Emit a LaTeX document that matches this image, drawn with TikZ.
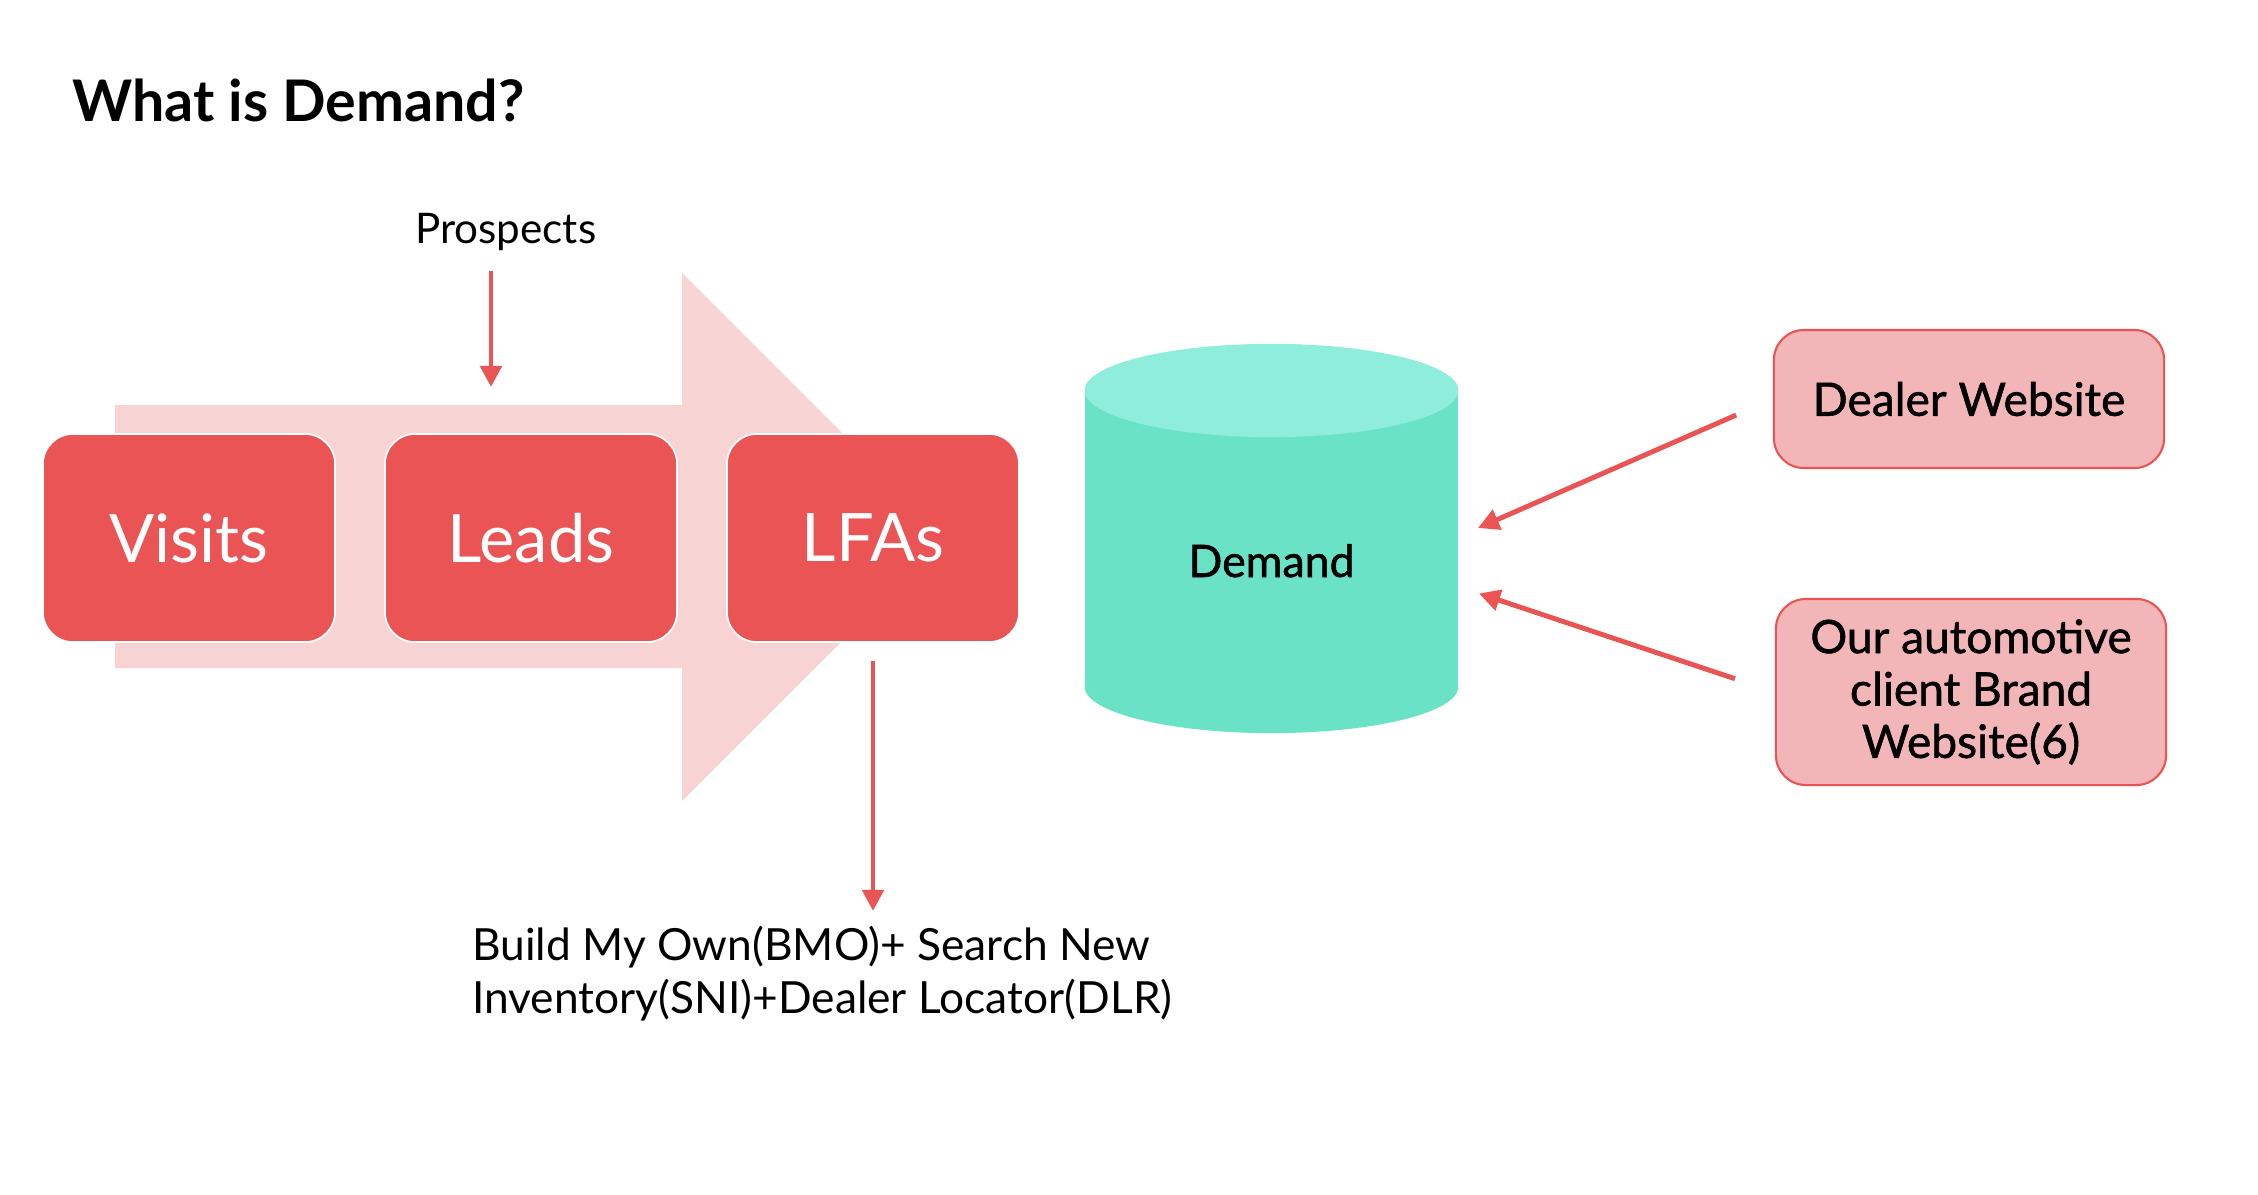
\documentclass[tikz,border=0pt]{standalone}
\usepackage{fontspec}
\setmainfont{Lato}
\newfontfamily\medfont{Lato}[FakeBold=1.2]
\usetikzlibrary{arrows.meta}
\definecolor{flowred}{HTML}{EB5454}
\definecolor{flowpink}{HTML}{F7D3D3}
\definecolor{sitepink}{HTML}{F2B5B8}
\definecolor{drumtop}{HTML}{8EEDDB}
\definecolor{drumbody}{HTML}{6AE2C6}
\begin{document}
\begin{tikzpicture}[x=0.01cm,y=-0.01cm,
	flowbox/.style={draw=white,line width=0.5pt,fill=flowred,rounded corners=0.3cm,minimum width=2.92cm,minimum height=2.08cm,text=white,font=\fontsize{19}{23}\selectfont},
	sitebox/.style={draw=flowred,line width=0.6pt,fill=sitepink,rounded corners=0.3cm,minimum width=3.9cm,align=center,font=\medfont\fontsize{13.1}{14.9}\selectfont},
	redarrow/.style={draw=flowred,line width=1.4pt,-{Triangle[length=0.21cm,width=0.21cm]}}]
	\fill[white] (0,0) rectangle (2258,1194);
	\node[anchor=base west,inner sep=0,font=\bfseries\fontsize{16.3}{19}\selectfont] (title) at (72,122) {What is Demand?};
	\begin{scope}
		\fill[flowpink] (115,405)--(682,405)--(682,273)--(946,537)--(682,801)--(682,668)--(115,668)--cycle;
		\node[flowbox] (visits) at (189,538) {Visits};
		\node[flowbox] (leads) at (531,538) {Leads};
		\node[flowbox] (lfas) at (873,538) {LFAs};
		\node[anchor=base,inner sep=0,font=\fontsize{12}{14}\selectfont] (prospects) at (505.6,243) {Prospects};
		\coordinate (leadsin) at (491,387);
		\path[redarrow,shorten <=0.2cm] (prospects.south -| leadsin)--(leadsin);
		\node[anchor=base west,inner sep=0,align=left,font=\fontsize{12.6}{14.8}\selectfont] (bmo) at (471.6,1013) {Build My Own(BMO)+ Search New\\Inventory(SNI)+Dealer Locator(DLR)};
		\path[redarrow,shorten <=0.18cm,shorten >=0.15cm] (lfas.south)--(lfas.south |- bmo.north);
	\end{scope}
	%			cylinder
	\begin{scope}
		\fill[drumbody] (1084.7,390.5) rectangle (1458.3,686.5);
		\fill[drumbody] (1271.5,686.5) ellipse [x radius=1.868cm,y radius=0.466cm];
		\fill[drumtop] (1271.5,390.5) ellipse [x radius=1.868cm,y radius=0.466cm];
		\node[anchor=base,inner sep=0,font=\medfont\fontsize{12.7}{15}\selectfont] (demand) at (1271.5,577) {Demand};
		\node[sitebox,minimum height=1.38cm] (dealer) at (1969,399) {Dealer Website};
		\node[sitebox,minimum height=1.86cm] (brand) at (1971,692) {Our automotive\\client Brand\\Website(6)};
		\coordinate (demandtop) at (1478,528);
		\coordinate (demandlow) at (1479,593.5);
		\path[redarrow,shorten <=0.4cm] (dealer.west)--(demandtop);
		\path[redarrow,shorten <=0.42cm] (brand.west)--(demandlow);
	\end{scope}
\end{tikzpicture}
\end{document}
